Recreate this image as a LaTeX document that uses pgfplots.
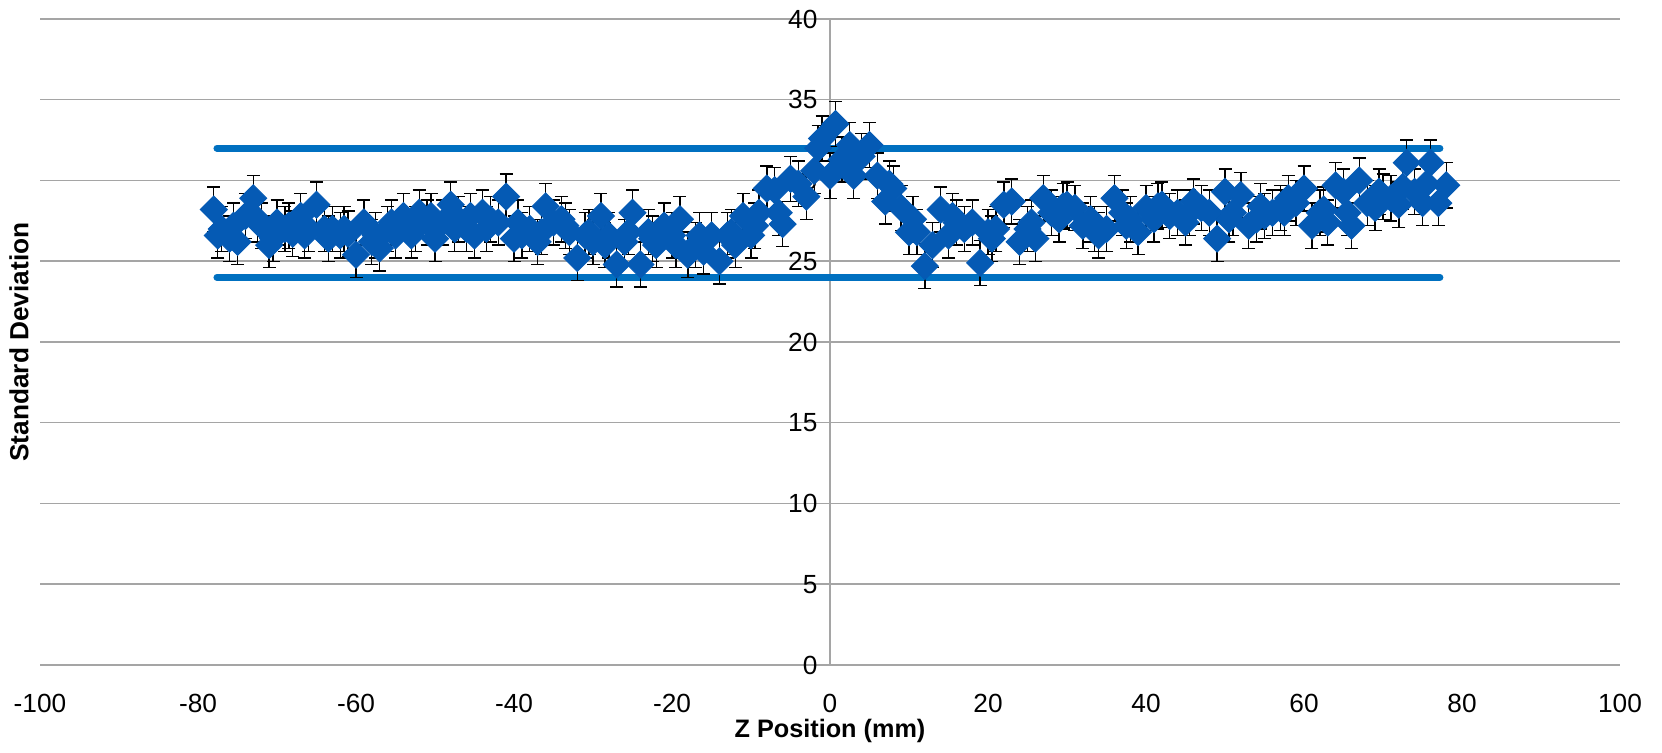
\documentclass[border=0pt]{standalone}
\usepackage{fontspec}
\setmainfont{Liberation Sans}
\usepackage{pgfplots}
\usepackage{pgfplotstable}
\pgfplotsset{compat=1.18}

\definecolor{markblue}{RGB}{5,90,180}
\definecolor{lineblue}{RGB}{0,112,192}
\definecolor{gridgray}{RGB}{165,165,165}

% Z position (mm), standard deviation
\pgfplotstableread{
x y
-78 28.2
-77.5 26.6
-77 27.0
-76 26.4
-75.5 27.2
-75 26.2
-74 27.8
-73 28.9
-72.5 27.6
-72 27.2
-71 26.0
-70.5 26.4
-70 27.4
-69 27.0
-68.5 27.2
-68 26.7
-67 27.8
-66.5 26.6
-66 27.0
-65 28.5
-64 27.0
-63.5 26.4
-63 27.0
-62 26.6
-61.5 27.0
-61 26.7
-60 25.4
-59 27.4
-58 26.2
-57.5 26.6
-57 25.8
-56 27.0
-55.5 27.4
-55 26.6
-54 27.8
-53 26.6
-52.5 27.0
-52 28.0
-51 27.4
-50.5 27.8
-50 26.4
-49 27.4
-48 28.5
-47.5 27.0
-47 27.6
-46 27.0
-45.5 27.8
-45 26.6
-44 28.0
-43.5 27.0
-43 27.6
-42 27.4
-41 29.0
-40 26.4
-39.5 27.4
-39 26.6
-38 27.0
-37 26.2
-36.5 26.8
-36 28.4
-35 27.4
-34 27.6
-33.5 27.2
-33 26.8
-32 25.2
-31 26.6
-30.5 26.8
-30 26.2
-29 27.8
-28.5 26.0
-28 26.6
-27 24.8
-26 26.2
-25.5 26.8
-25 28.0
-24 24.8
-23 26.8
-22.5 26.4
-22 26.0
-21 27.2
-20 26.6
-19.5 26.0
-19 27.6
-18 25.4
-17 26.0
-16.5 26.6
-16 25.6
-15 26.6
-14 25.0
-13 26.6
-12.5 26.8
-12 26.0
-11 27.8
-10 26.6
-9.5 27.2
-9 28.0
-8 29.5
-7 29.4
-6.5 28.0
-6 27.3
-5 30.1
-4 29.8
-3 29.0
-2 30.6
-1.5 32.0
-1 32.6
0 30.3
0.7 33.5
1.5 31.3
2.5 32.2
3 30.3
4 31.5
5 32.2
6 30.3
7 28.7
7.5 29.8
8 29.5
9 28.3
10 26.8
10.5 27.6
11 26.8
12 24.7
13 26.0
14 28.2
15 26.6
15.5 27.8
16 27.4
17 27.0
18 27.4
19 24.9
20 26.8
20.5 26.4
21 27.0
22 28.5
23 28.7
24 26.2
25 27.0
25.5 27.4
26 26.4
27 28.9
28 28.0
29 27.6
29.5 28.4
30 28.5
31 28.3
32 27.2
33 27.6
33.5 27.0
34 26.6
35 27.0
36 28.9
37 28.0
37.5 27.2
38 27.6
39 26.8
40 28.3
41 27.6
41.5 28.4
42 28.5
43 27.8
44 28.0
45 27.4
45.5 28.0
46 28.7
47 28.3
48 28.0
49 26.4
50 29.3
50.5 27.6
51 28.0
52 29.1
53 27.2
54 27.6
54.5 28.4
55 27.8
56 28.0
57 28.3
57.5 28.0
58 28.9
59 28.6
60 29.5
61 27.2
62 28.0
62.5 28.2
63 27.4
64 29.7
65 29.3
65.5 28.0
66 27.2
67 30.0
68 28.6
69 28.3
69.5 29.3
70 29.0
71 28.9
72 28.5
72.5 29.6
73 31.1
74 29.3
75 28.6
75.5 29.8
76 31.1
77 28.6
78 29.7
}\sdtable

\begin{document}
\begin{tikzpicture}
  \begin{axis}[
    scale only axis,
    width=632pt, height=258.4pt,
    xmin=-100, xmax=100, ymin=0, ymax=40,
    enlargelimits=false,
    axis x line*=bottom,
    axis y line*=center,
    hide obscured x ticks=false,
    hide obscured y ticks=false,
    axis line style={gridgray, line width=0.6pt},
    major tick length=0pt,
    ymajorgrids,
    major grid style={gridgray, line width=0.6pt},
    xtick={-100,-80,...,100},
    xticklabels={-100,-80,-60,-40,-20,0,20,40,60,80,100},
    ytick={0,5,...,40},
    tick label style={font=\fontsize{10.5}{12}\selectfont},
    yticklabel style={/pgf/number format/assume math mode=true, xshift=-1.5pt},
    xticklabel style={yshift=-8pt},
    xlabel={Z Position (mm)},
    ylabel={Standard Deviation},
    xlabel style={font=\fontsize{10.1}{12}\selectfont\bfseries,
      at={(axis description cs:0.5,0)}, anchor=center, yshift=-26.4pt},
    ylabel style={font=\fontsize{10.5}{12}\selectfont\bfseries,
      at={(axis description cs:-0.0133,0.5)}, anchor=center},
  ]
    \addplot[lineblue, line width=2.8pt, line cap=round] coordinates {(-77.6,32) (77.2,32)};
    \addplot[lineblue, line width=2.8pt, line cap=round] coordinates {(-77.6,24) (77.2,24)};
    \addplot[only marks, mark=square*, mark size=3.8pt,
      mark options={rotate=45, fill=markblue, draw=markblue},
      error bars/.cd, y dir=both, y fixed=1.4,
      error bar style={black, line width=0.55pt},
      error mark options={rotate=90, mark size=2.6pt, black, line width=0.55pt}]
      table[x=x, y=y] {\sdtable};
  \end{axis}
  \pgfresetboundingbox
  \path (current axis.south west) ++(-16pt,-35.2pt) rectangle ([shift={(16.8pt,7.6pt)}]current axis.north east);
\end{tikzpicture}
\end{document}
